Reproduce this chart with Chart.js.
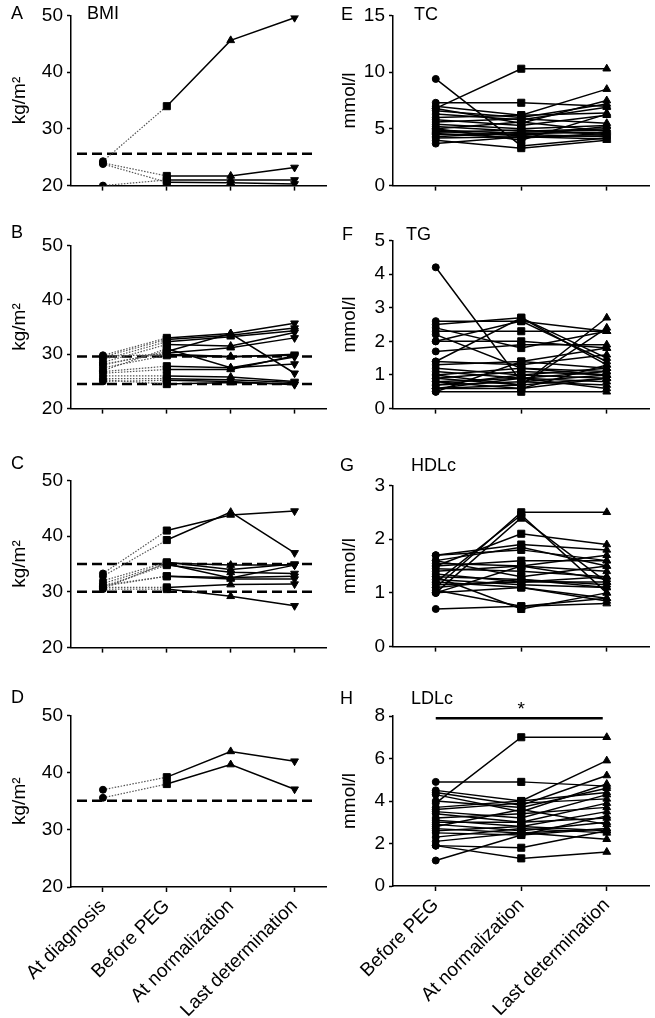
<!DOCTYPE html>
<html>
<head>
<meta charset="utf-8">
<script src="https://cdn.jsdelivr.net/npm/chart.js@4/dist/chart.umd.min.js"></script>
<style>
body { margin: 0; background: #fff; }
#wrap { position: relative; width: 655px; height: 1018px; overflow: hidden; font-family: "Liberation Sans", Arial, sans-serif; }
canvas { position: absolute; }
.lbl { position: absolute; font-size: 18px; line-height: 18px; color: #000; white-space: nowrap; }
</style>
</head>
<body>
<div id="wrap">
  <canvas id="pA" width="332" height="201" style="left:0;top:0"></canvas>
  <canvas id="pB" width="332" height="194" style="left:0;top:230px"></canvas>
  <canvas id="pC" width="332" height="198" style="left:0;top:465px"></canvas>
  <canvas id="pD" width="332" height="318" style="left:0;top:700px"></canvas>
  <canvas id="pE" width="330" height="201" style="left:325px;top:0"></canvas>
  <canvas id="pF" width="330" height="199" style="left:325px;top:225px"></canvas>
  <canvas id="pG" width="330" height="192" style="left:325px;top:470px"></canvas>
  <canvas id="pH" width="330" height="338" style="left:325px;top:680px"></canvas>

  <div class="lbl" style="left:11px;top:4px">A</div>
  <div class="lbl" style="left:87px;top:4px">BMI</div>
  <div class="lbl" style="left:11px;top:223px">B</div>
  <div class="lbl" style="left:11px;top:454px">C</div>
  <div class="lbl" style="left:11px;top:688px">D</div>
  <div class="lbl" style="left:341px;top:5px">E</div>
  <div class="lbl" style="left:414px;top:5px">TC</div>
  <div class="lbl" style="left:342px;top:225px">F</div>
  <div class="lbl" style="left:406px;top:225px">TG</div>
  <div class="lbl" style="left:340px;top:456px">G</div>
  <div class="lbl" style="left:411px;top:456px">HDLc</div>
  <div class="lbl" style="left:340px;top:689px">H</div>
  <div class="lbl" style="left:411px;top:689px">LDLc</div>
</div>
<script>
// categories
const bmiLabels = ['At diagnosis', 'Before PEG', 'At normalization', 'Last determination'];
const lipidLabels = ['Before PEG', 'At normalization', 'Last determination'];

// y tick values per panel
const bmiTicks = [20, 30, 40, 50];
const tcTicks = [0, 5, 10, 15];
const tgTicks = [0, 1, 2, 3, 4, 5];
const hdlTicks = [0, 1, 2, 3];
const ldlTicks = [0, 2, 4, 6, 8];

// dashed reference levels
const refA = [25.6];
const refB = [29.6, 24.5];
const refC = [35, 30];
const refD = [35.1];

// BMI per patient: diagnosis, before PEG, normalization, last
const bmiA = [
  [24.3, 34.0, 45.6, 49.6],
  [24.0, 21.7, 21.7, 23.2],
  [20.0, 21.0, 21.0, 21.0],
  [23.8, 20.6, 20.5, 20.3]
];
const bmiB = [
  [29.8, 33.0, 33.8, 35.7],
  [29.5, 32.7, 33.5, 34.8],
  [29.0, 32.3, 33.2, 34.3],
  [28.5, 31.8, 31.5, 34.0],
  [28.0, 30.5, 33.8, 26.5],
  [28.2, 30.2, 31.2, 33.0],
  [27.5, 29.8, 29.5, 30.0],
  [27.0, 31.0, 27.5, 29.5],
  [26.8, 27.8, 27.5, 28.2],
  [26.5, 27.2, 27.2, 29.7],
  [26.0, 26.0, 25.8, 25.0],
  [25.5, 25.5, 25.3, 24.8],
  [25.3, 24.5, 24.8, 24.5],
  [25.0, 25.2, 25.0, 24.4],
  [29.6, 30.0, 29.6, 29.8]
];
const bmiC = [
  [33.3, 41.0, 43.8, 44.5],
  [32.8, 39.3, 44.3, 37.0],
  [32.0, 35.3, 34.0, 35.0],
  [31.5, 35.0, 32.5, 34.8],
  [31.0, 34.8, 33.5, 33.3],
  [31.0, 32.8, 32.6, 32.8],
  [30.8, 30.8, 31.3, 31.4],
  [30.5, 30.5, 29.2, 27.5],
  [30.6, 35.2, 34.8, 34.8],
  [31.2, 32.8, 32.3, 32.3]
];
const bmiD = [
  [37.0, 39.2, 43.7, 42.0],
  [35.6, 38.0, 41.4, 37.1]
];

// lipids per patient: before PEG, normalization, last
const tc = [
  [9.4, 3.5, 4.2], [6.8, 10.3, 10.3], [7.3, 7.3, 7.0], [7.0, 6.2, 8.5],
  [6.8, 5.5, 7.5], [6.6, 6.0, 7.2], [6.3, 5.8, 6.9], [6.0, 6.2, 6.4],
  [5.8, 5.3, 6.2], [5.6, 5.9, 5.5], [5.4, 5.0, 5.3], [5.2, 4.8, 5.0],
  [5.0, 5.6, 4.8], [4.9, 4.6, 4.7], [4.8, 4.4, 5.2], [4.7, 4.9, 4.5],
  [4.6, 4.2, 4.6], [4.5, 4.5, 4.3], [4.3, 4.7, 4.9], [4.2, 4.3, 4.1],
  [4.0, 3.3, 4.0], [3.7, 4.3, 4.4], [5.0, 4.0, 6.3]
];
const tg = [
  [4.2, 0.8, 1.0], [2.6, 2.6, 2.3], [2.5, 2.7, 1.3], [2.4, 1.8, 2.3],
  [2.3, 2.3, 2.3], [2.2, 1.2, 1.0], [2.0, 2.0, 1.8], [2.0, 2.6, 1.4],
  [1.7, 1.9, 1.9], [1.4, 2.7, 1.5], [1.4, 1.3, 1.6], [1.3, 1.4, 1.8],
  [1.2, 1.0, 1.2], [1.1, 0.9, 0.6], [1.0, 1.2, 1.1], [1.0, 0.7, 0.9],
  [0.9, 0.7, 2.7], [0.9, 1.1, 1.0], [0.8, 0.9, 0.8], [0.8, 0.6, 1.3],
  [0.7, 1.0, 0.9], [0.7, 0.8, 0.7], [0.6, 0.6, 0.9], [0.6, 0.9, 1.1],
  [0.5, 0.5, 0.5], [0.5, 1.4, 1.2], [0.6, 0.7, 2.4]
];
const hdl = [
  [1.1, 2.5, 2.5], [1.0, 2.4, 1.2], [1.2, 2.45, 1.0], [1.5, 2.1, 1.9],
  [1.7, 1.9, 1.8], [1.6, 1.85, 1.5], [1.7, 1.8, 1.6], [1.55, 1.5, 1.7],
  [1.5, 1.6, 1.6], [1.45, 1.4, 1.3], [1.4, 1.5, 1.25], [1.35, 1.2, 1.2],
  [1.3, 1.25, 1.15], [1.25, 1.15, 1.1], [1.2, 1.1, 0.9], [1.15, 1.2, 1.3],
  [1.1, 1.25, 1.1], [1.05, 0.75, 0.8], [1.0, 1.1, 0.85], [0.7, 0.75, 0.9],
  [1.6, 1.3, 1.5], [1.3, 0.7, 1.0], [1.0, 1.5, 1.4]
];
const ldl = [
  [3.9, 7.0, 7.0], [4.9, 4.9, 4.7], [4.5, 4.0, 5.9], [4.4, 3.8, 5.2],
  [4.3, 3.5, 4.8], [4.0, 3.7, 4.6], [3.7, 4.0, 4.4], [3.5, 3.2, 4.3],
  [3.4, 3.0, 3.9], [3.2, 3.4, 3.7], [3.1, 2.8, 3.5], [3.0, 3.0, 3.2],
  [2.9, 2.6, 3.0], [2.8, 3.6, 2.9], [2.7, 2.5, 2.7], [2.6, 2.8, 2.6],
  [2.5, 2.4, 3.3], [2.3, 2.7, 2.5], [2.1, 2.5, 2.2], [1.9, 1.8, 2.6],
  [1.9, 1.3, 1.6], [1.2, 2.4, 2.7], [3.6, 3.9, 4.1]
];

// significance bar in H: from category, to category, level
const ldlSig = [0, 2, 7.9];

Chart.defaults.font.family = '"Liberation Sans", Arial, sans-serif';
Chart.defaults.font.size = 19;
Chart.defaults.color = '#000';

// markers: circle, square, triangle up, triangle down (BMI only)
const bmiMarkers = { style: ['circle', 'rect', 'triangle', 'triangle'], rot: [0, 0, 0, 180], size: [3.5, 5, 4.5, 4.5] };
const lipidMarkers = { style: ['circle', 'rect', 'triangle'], rot: [0, 0, 0], size: [3.5, 5, 4.5] };

function panel(id, labels, rows, ticks, unit, refs, o) {
    const m = labels.length === 4 ? bmiMarkers : lipidMarkers;
    const dotted = labels.length === 4;

    const extras = {
        id: 'extras',
        beforeDatasetsDraw(chart) {
            const {ctx, chartArea: a, scales: {y}} = chart;
            ctx.save();
            ctx.setLineDash([10, 5]);
            ctx.lineWidth = 2.5;
            ctx.strokeStyle = '#000';
            refs.forEach(v => {
                const py = y.getPixelForValue(v);
                ctx.beginPath();
                ctx.moveTo(a.left + 6, py);
                ctx.lineTo(a.right - 14, py);
                ctx.stroke();
            });
            ctx.restore();
        },
        afterDraw(chart) {
            if (!o.sig) return;
            const {ctx, scales: {x, y}} = chart;
            const x0 = x.getPixelForValue(o.sig[0]);
            const x1 = x.getPixelForValue(o.sig[1]);
            const py = y.getPixelForValue(o.sig[2]);
            ctx.save();
            ctx.lineWidth = 2.5;
            ctx.strokeStyle = '#000';
            ctx.beginPath();
            ctx.moveTo(x0, py);
            ctx.lineTo(x1 - 4, py);
            ctx.stroke();
            ctx.fillStyle = '#000';
            ctx.font = '19px "Liberation Sans", Arial, sans-serif';
            ctx.textAlign = 'center';
            ctx.textBaseline = 'alphabetic';
            ctx.fillText('*', (x0 + x1) / 2, py - 3);
            ctx.restore();
        }
    };

    new Chart(document.getElementById(id), {
        type: 'line',
        data: {
            labels: labels,
            datasets: rows.map(r => ({
                data: r,
                borderColor: '#000',
                borderWidth: 1.5,
                tension: 0,
                pointStyle: m.style,
                pointRotation: m.rot,
                pointRadius: m.size,
                pointBackgroundColor: '#000',
                pointBorderColor: '#000',
                pointBorderWidth: 1,
                segment: dotted ? {
                    borderDash: c => c.p0DataIndex === 0 ? [1.5, 1.5] : undefined,
                    borderColor: c => c.p0DataIndex === 0 ? '#555' : undefined,
                    borderWidth: c => c.p0DataIndex === 0 ? 1.2 : undefined
                } : undefined
            }))
        },
        options: {
            responsive: false,
            animation: false,
            devicePixelRatio: 1,
            layout: { padding: { top: o.pt, right: 1, left: 0, bottom: 0 } },
            plugins: { legend: { display: false }, tooltip: { enabled: false } },
            scales: {
                x: {
                    offset: true,
                    grid: { drawOnChartArea: false, offset: false, tickLength: 5, color: '#000', tickWidth: 1.5 },
                    border: { color: '#000', width: 1.5 },
                    ticks: { display: o.showX, minRotation: 45, maxRotation: 45, padding: 3 },
                    afterFit: s => { s.height = o.xh; }
                },
                y: {
                    min: ticks[0],
                    max: ticks[ticks.length - 1],
                    ticks: { stepSize: ticks[1] - ticks[0], padding: 4 },
                    grid: { drawOnChartArea: false, tickLength: 4, color: '#000', tickWidth: 1.5 },
                    border: { color: '#000', width: 1.5 },
                    title: { display: true, text: unit, padding: { top: o.tp, bottom: 0 } },
                    afterFit: s => { s.width = o.yw; }
                }
            }
        },
        plugins: [extras]
    });
}

const left = { yw: 71, tp: 8 };
const right = { yw: 68, tp: 13 };

panel('pA', bmiLabels, bmiA, bmiTicks, 'kg/m²', refA, { ...left, pt: 11, xh: 12, showX: false });
panel('pB', bmiLabels, bmiB, bmiTicks, 'kg/m²', refB, { ...left, pt: 12, xh: 12, showX: false });
panel('pC', bmiLabels, bmiC, bmiTicks, 'kg/m²', refC, { ...left, pt: 14, xh: 12, showX: false });
panel('pD', bmiLabels, bmiD, bmiTicks, 'kg/m²', refD, { ...left, pt: 14, xh: 131, showX: true });

panel('pE', lipidLabels, tc, tcTicks, 'mmol/l', [], { ...right, pt: 15, xh: 12, showX: false });
panel('pF', lipidLabels, tg, tgTicks, 'mmol/l', [], { ...right, pt: 12, xh: 12, showX: false });
panel('pG', lipidLabels, hdl, hdlTicks, 'mmol/l', [], { ...right, pt: 14, xh: 12, showX: false });
panel('pH', lipidLabels, ldl, ldlTicks, 'mmol/l', [], { ...right, pt: 36, xh: 132, showX: true, sig: ldlSig });
</script>
</body>
</html>
